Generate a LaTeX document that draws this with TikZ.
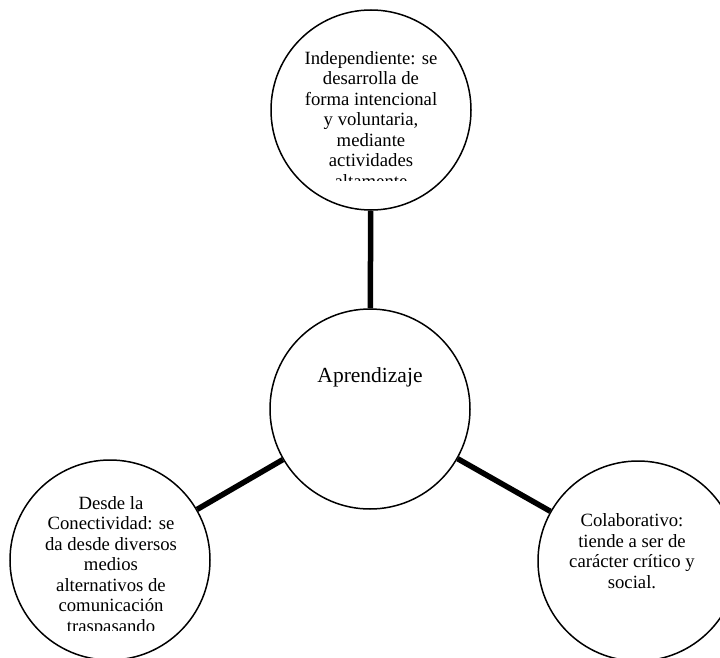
\documentclass[tikz,border=0pt]{standalone}
\usepackage{fontspec}
\setmainfont{Liberation Serif}
\usepackage{tikz}

\tikzset{
  globo/.style={circle, draw=black, line width=1.5pt, minimum size=200pt, inner sep=0pt, fill=white},
  rama/.style={line width=5.5pt},
  texto/.style={align=center, anchor=base, inner sep=0pt, font=\fontsize{18.7}{20.5}\selectfont}
}

\begin{document}
\begin{tikzpicture}[x=1pt,y=-1pt]
\clip (0,0) rectangle (720,658);
% circulos
\node[globo] (apr) at (370,409) {};
\node[globo] (ind) at (371,110) {};
\node[globo] (con) at (110,560) {};
\node[globo] (col) at (638,561) {};
%% ramas
\draw[rama] (apr) -- (ind);
\draw[rama] (apr) -- (con);
\draw[rama] (apr) -- (col);
%% textos (ancla en la ultima linea)
\node[texto, font=\fontsize{21.5}{24}\selectfont] (tapr) at (370,382) {Aprendizaje};
\node[texto] (tcol) at (632,588) {Colaborativo:\\tiende a ser de\\carácter crítico y\\social.};
\begin{scope}
\clip (250,0) rectangle (490,180);
\node[texto] (tind) at (371,187) {Independiente: se\\desarrolla de\\forma intencional\\y voluntaria,\\mediante\\actividades\\altamente};
\end{scope}
\begin{scope}
\clip (0,440) rectangle (230,630);
\node[texto] (tcon) at (111,632) {Desde la\\Conectividad: se\\da desde diversos\\medios\\alternativos de\\comunicación\\traspasando};
\end{scope}
\end{tikzpicture}
\end{document}
